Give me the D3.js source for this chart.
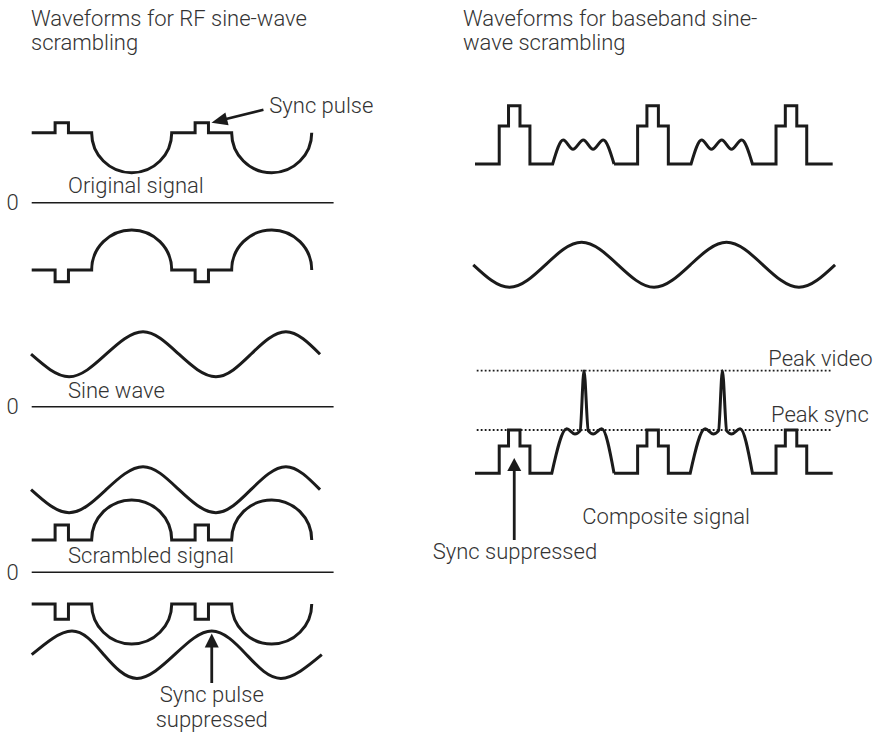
<!DOCTYPE html>
<html>
<head>
<meta charset="utf-8">
<script src="https://cdn.jsdelivr.net/npm/d3@7"></script>
<style>
  body { margin: 0; background: #fff; }
  svg text { font-family: Roboto, "Liberation Sans", Arial, sans-serif; font-weight: 300; font-size: 22px; fill: #333; }
</style>
</head>
<body>
<div id="chart"></div>
<script>
// LEFT PANEL: RF sine-wave scrambling (time in µs, level in % of the strip scale)
const rfLineStart = [0, 64];            // start of each TV line
const rfSync = [10.7, 16.8];            // sync pulse, from line start
const rfVideo = [27.4, 64];             // picture part, from line start
const rfWaveNames = ["original", "inverted", "scrambled", "inverted scrambled"];
const rfStrip = [0, 1, 2, 2];           // which zero line the wave sits on
const rfBlank = [87.5, 170.9, 40.4, -39.6];
const rfSyncLvl = [100, 156.3, 59.1, -58.8];
const rfBulge = ["down", "up", "up", "down"];

const sineT = [-0.3, 17.1, 34.0, 50.9, 67.3, 84.2, 100.2, 116.2, 131.8];
const sineV = [65.6, 37.5, 65.6, 93.7, 65.6, 37.5, 65.6, 93.7, 65.6];
const carrierV = [103.3, 74.5, 103.3, 132, 103.3, 74.5, 103.3, 132, 103.3];
const invSineT = [0, 18.4, 33.0, 48.1, 65.3, 82.3, 98.2, 113.9, 132.6];
const invSineV = [-103, -73.4, -103, -132.6, -103, -73.4, -103, -132.6, -103];
const rfZeroEnd = 138;

// RIGHT PANEL: baseband sine-wave scrambling
const bbLineStart = [0, 64, 128];
const bbBlock = [11.2, 15.5, 20.8, 25.4];   // rise, pulse on, pulse off, fall
const bbEnd = 165.4;
const bbTopShelf = 47.5, bbTopPulse = 72.9;
const bbVideoT = [35.9, 40.8, 45.3, 50.1, 54.6, 59.3, 64.3];
const bbVideoV = [0, 30, 18.4, 30, 18.4, 30, 0];
const bbSineT = [-0.8, 15.95, 32.6, 49.3, 66.1, 82.8, 99.6, 116.3, 133.1, 149.8, 166.5];
const bbSineV = [0, -28.1, 0, 28.1, 0, -28.1, 0, 28.1, 0, -28.1, 0];
const compShelf = 34.1, peakSync = 54.1, peakVideo = 128.3;
const compVideoT = [35.5, 42.4, 46.2, 48.6, 50.4, 52.4, 54.7, 58.6, 64.3];
const compVideoV = [0, 55.6, 49.1, 53, 128.3, 53, 49.1, 55.6, 0];

const W = 884, H = 732;
const INK = "#1b1b1b";

const svg = d3.select("#chart").append("svg")
  .attr("width", W).attr("height", H)
  .style("background", "#fff");

// SCALES
const xL = d3.scaleLinear().domain([0, rfZeroEnd]).range([31.7, 333.6]);
const xR = d3.scaleLinear().domain([0, 165.5]).range([475, 832.9]);
const level = zero => d3.scaleLinear().domain([0, 100]).range([zero, zero - 80]);
const rfZero = [202.7, 406.7, 572.3];
const yRF = rfZero.map(level);
const yTop = level(164), ySine = level(264.8), yComp = level(473.3);

const wave = d => svg.append("path")
  .attr("d", d)
  .attr("fill", "none")
  .attr("stroke", INK)
  .attr("stroke-width", 3)
  .attr("stroke-linejoin", "miter");

const label = (x, y, s, anchor) => svg.append("text")
  .attr("x", x).attr("y", y)
  .attr("text-anchor", anchor || "start")
  .text(s);

// TITLES
label(31, 26, "Waveforms for RF sine-wave");
label(31, 50, "scrambling");
label(463, 26, "Waveforms for baseband sine-");
label(463, 50, "wave scrambling");

// ZERO LINES
rfZero.forEach((z, i) => {
  svg.append("line")
    .attr("x1", xL(0)).attr("x2", xL(rfZeroEnd))
    .attr("y1", yRF[i](0)).attr("y2", yRF[i](0))
    .attr("stroke", INK).attr("stroke-width", 1.4);
  label(xL(0) - 13, yRF[i](0) + 7.5, "0", "end");
});

// RF WAVES WITH SYNC PULSES AND HALF-CIRCLE VIDEO
rfWaveNames.forEach((name, i) => {
  const y = yRF[rfStrip[i]];
  const p = d3.path();
  p.moveTo(xL(0), y(rfBlank[i]));
  rfLineStart.forEach(t0 => {
    const s0 = xL(t0 + rfSync[0]), s1 = xL(t0 + rfSync[1]);
    p.lineTo(s0, y(rfBlank[i]));
    p.lineTo(s0, y(rfSyncLvl[i]));
    p.lineTo(s1, y(rfSyncLvl[i]));
    p.lineTo(s1, y(rfBlank[i]));
    const a = xL(t0 + rfVideo[0]), b = xL(t0 + rfVideo[1]);
    p.lineTo(a, y(rfBlank[i]));
    p.arc((a + b) / 2, y(rfBlank[i]), (b - a) / 2, Math.PI, 0, rfBulge[i] === "down");
  });
  wave(p.toString()).attr("class", "rf " + name);
});

// RF SINE WAVES
const sineLine = (xs, ys) => d3.line().curve(d3.curveNatural)
  .x(d => xs(d[0])).y(d => ys(d[1]));
wave(sineLine(xL, yRF[1])(d3.zip(sineT, sineV)));
wave(sineLine(xL, yRF[2])(d3.zip(sineT, carrierV)));
wave(sineLine(xL, yRF[2])(d3.zip(invSineT, invSineV)));

// BASEBAND WAVES
const videoLine = (ys) => d3.line().curve(d3.curveMonotoneX)
  .x(d => xR(d[0])).y(d => ys(d[1]));

function baseband(ys, shelf, pulse, vT, vV) {
  const p = d3.path();
  p.moveTo(xR(0), ys(0));
  let d = "";
  bbLineStart.forEach((t0, k) => {
    const [r, on, off, f] = bbBlock.map(b => xR(t0 + b));
    p.lineTo(r, ys(0));
    p.lineTo(r, ys(shelf));
    p.lineTo(on, ys(shelf));
    p.lineTo(on, ys(pulse));
    p.lineTo(off, ys(pulse));
    p.lineTo(off, ys(shelf));
    p.lineTo(f, ys(shelf));
    p.lineTo(f, ys(0));
    if (k < bbLineStart.length - 1) {
      d += p.toString();
      const v = videoLine(ys)(vT.map((t, j) => [t0 + t, vV[j]]));
      d += v.replace(/^M/, "L");
      const last = vT[vT.length - 1];
      p._ = "";
      p.moveTo(xR(t0 + last), ys(0));
    }
  });
  p.lineTo(xR(bbEnd), ys(0));
  d += p.toString().replace(/^M[^L]*/, "");
  return d;
}
wave(baseband(yTop, bbTopShelf, bbTopPulse, bbVideoT, bbVideoV));
wave(sineLine(xR, ySine)(d3.zip(bbSineT, bbSineV)));

// PEAK LEVEL DOTTED LINES
[peakVideo, peakSync].forEach(v => {
  svg.append("line")
    .attr("x1", xR(0.8)).attr("x2", xR(165.3))
    .attr("y1", yComp(v)).attr("y2", yComp(v))
    .attr("stroke", INK).attr("stroke-width", 1.8)
    .attr("stroke-dasharray", "1.8 2.2");
});
wave(baseband(yComp, compShelf, peakSync, compVideoT, compVideoV));

// ARROWS
function arrow(tail, tip, len, half, w) {
  const dx = tip[0] - tail[0], dy = tip[1] - tail[1], L = Math.hypot(dx, dy);
  const ux = dx / L, uy = dy / L;
  const bx = tip[0] - ux * len, by = tip[1] - uy * len;
  svg.append("line")
    .attr("x1", tail[0]).attr("y1", tail[1])
    .attr("x2", bx + ux * 2).attr("y2", by + uy * 2)
    .attr("stroke", INK).attr("stroke-width", w);
  svg.append("path")
    .attr("d", d3.line()([tip, [bx - uy * half, by + ux * half], [bx + uy * half, by - ux * half]]) + "Z")
    .attr("fill", INK);
}

const syncEnd2 = xL(rfLineStart[1] + rfSync[1]);
arrow([syncEnd2 + 55, yRF[0](rfSyncLvl[0]) - 13], [syncEnd2 + 3, yRF[0](rfSyncLvl[0])], 16, 6.5, 2.6);
label(269.3, 113.3, "Sync pulse");

label(68, 193, "Original signal");
label(68, 398, "Sine wave");
label(68, 563.3, "Scrambled signal");

const supX = xL(invSineT[5]);
arrow([supX, 683], [supX, yRF[2](invSineV[5]) + 2.5], 14, 7, 2.8);
label(supX, 701.7, "Sync pulse", "middle");
label(supX, 726.5, "suppressed", "middle");

const syncMid = xR((bbBlock[1] + bbBlock[2]) / 2);
arrow([syncMid, 540], [syncMid, yComp(compShelf) + 12], 13, 7, 2.8);
label(432.7, 559, "Sync suppressed");
label(582.3, 524.3, "Composite signal");
label(768.3, 366, "Peak video");
label(771, 421.7, "Peak sync");
</script>
</body>
</html>
